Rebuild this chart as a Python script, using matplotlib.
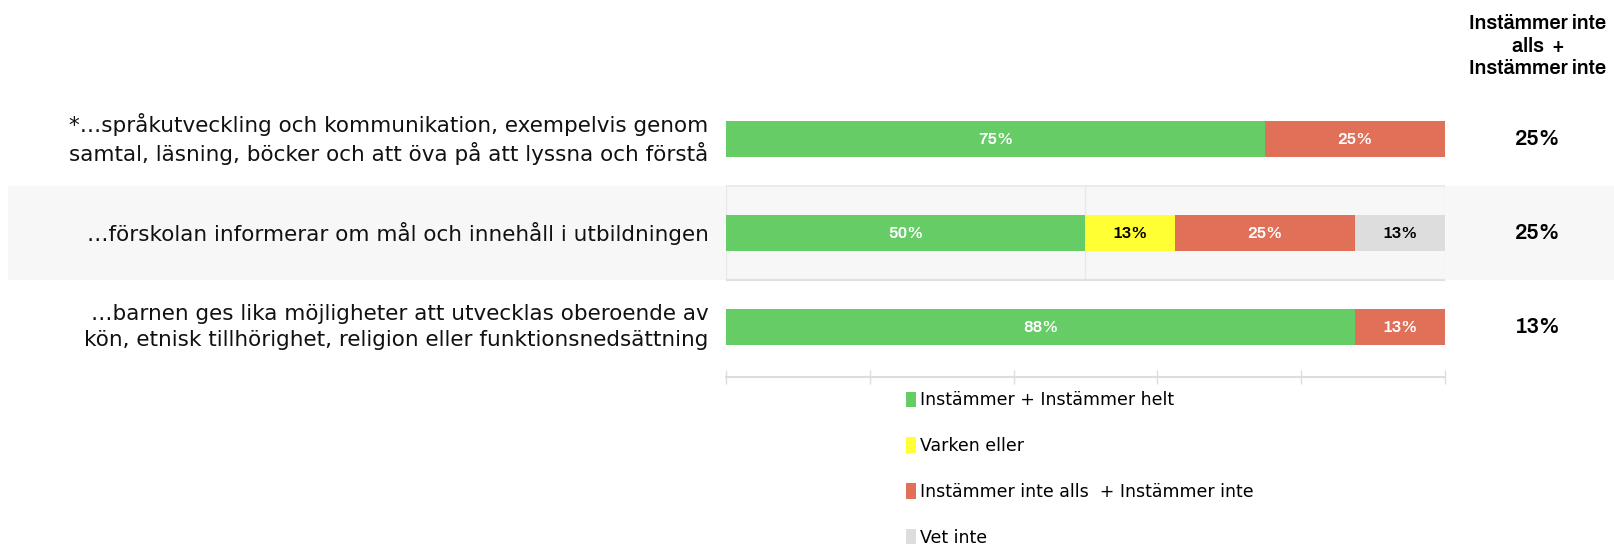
import matplotlib.pyplot as plt
from matplotlib.patches import Rectangle
from matplotlib.transforms import blended_transform_factory

archivo = ["Archivo", "DejaVu Sans"]
plain = ["DejaVu Sans"]

questions = [
    "*…språkutveckling och kommunikation, exempelvis genom\nsamtal, läsning, böcker och att öva på att lyssna och förstå",
    "…förskolan informerar om mål och innehåll i utbildningen",
    "…barnen ges lika möjligheter att utvecklas oberoende av\nkön, etnisk tillhörighet, religion eller funktionsnedsättning",
]
series = [
    "Instämmer + Instämmer helt",
    "Varken eller",
    "Instämmer inte alls  + Instämmer inte",
    "Vet inte",
]
agree = [75, 50, 87.5]
neither = [0, 12.5, 0]
disagree = [25, 25, 12.5]
dont_know = [0, 12.5, 0]
side_header = "Instämmer inte\nalls  +\nInstämmer inte"
side_values = [25, 25, 12.5]

colors = ["#66CC66", "#FFFF33", "#E07058", "#DDDDDD"]
text_colors = ["white", "black", "white", "black"]


def pct(v):
    return f"{int(v + 0.5)}%"


W, H = 1615, 547
fig = plt.figure(figsize=(W / 100, H / 100), dpi=100)
x0, x1 = 726, 1445
y_top, y_bot = 92, 377
ax = fig.add_axes([x0 / W, 1 - y_bot / H, (x1 - x0) / W, (y_bot - y_top) / H])
ax.set_xlim(0, 100)
ax.set_ylim(2.53, -0.5)

# light band behind the middle row, running across the whole figure
trans = blended_transform_factory(fig.transFigure, ax.transData)
ax.add_patch(Rectangle((8 / W, 0.5), 1 - 8 / W, 1.0, facecolor="#F7F7F7", edgecolor="none",
                       transform=trans, clip_on=False, zorder=0))
for gx in [0, 50, 100]:
    ax.plot([gx, gx], [0.5, 1.5], color="#E8E8E8", lw=1, zorder=1)
ax.plot([0, 100], [0.5, 0.5], color="#E8E8E8", lw=1.2, zorder=1)
ax.plot([0, 100], [1.5, 1.5], color="#E0E0E0", lw=1.5, zorder=1)

rows = range(len(questions))
left = [0] * len(questions)
for vals, c, tc, name in zip([agree, neither, disagree, dont_know], colors, text_colors, series):
    ax.barh(rows, vals, left=left, height=0.39, color=c, label=name, zorder=2)
    for i, v in enumerate(vals):
        if v > 0:
            ax.text(left[i] + v / 2, i, pct(v), ha="center", va="center", color=tc,
                    fontsize=12, family=archivo, zorder=3)
    left = [l + v for l, v in zip(left, vals)]

for i, q in enumerate(questions):
    ax.text(-2.4, i, q, ha="right", va="center", fontsize=15.5, family=plain,
            color="#111111", linespacing=1.36)

for i, v in enumerate(side_values):
    ax.text(1538 / W, i, pct(v), ha="center", va="center", fontsize=15.5,
            family=archivo, transform=trans)
fig.text(1538 / W, 1 - 46 / H, side_header, ha="center", va="center", fontsize=14.5,
         fontweight="bold", family=archivo, linespacing=1.25)

for s in ["top", "right", "left"]:
    ax.spines[s].set_visible(False)
ax.spines["bottom"].set_color("#DDDDDD")
ax.spines["bottom"].set_linewidth(1.5)
ax.set_xticks([0, 20, 40, 60, 80, 100])
ax.tick_params(axis="x", direction="inout", length=10, color="#DDDDDD", width=1,
               labelbottom=False)
ax.set_yticks([])

ax.legend(loc="upper left", bbox_to_anchor=((906 - x0) / (x1 - x0), -0.05), frameon=False,
          prop={"family": plain, "size": 12.5}, handlelength=0.55, handleheight=1.0,
          handletextpad=0.25, labelspacing=1.6, borderaxespad=0, borderpad=0)

fig.savefig("out.png", dpi=100)
